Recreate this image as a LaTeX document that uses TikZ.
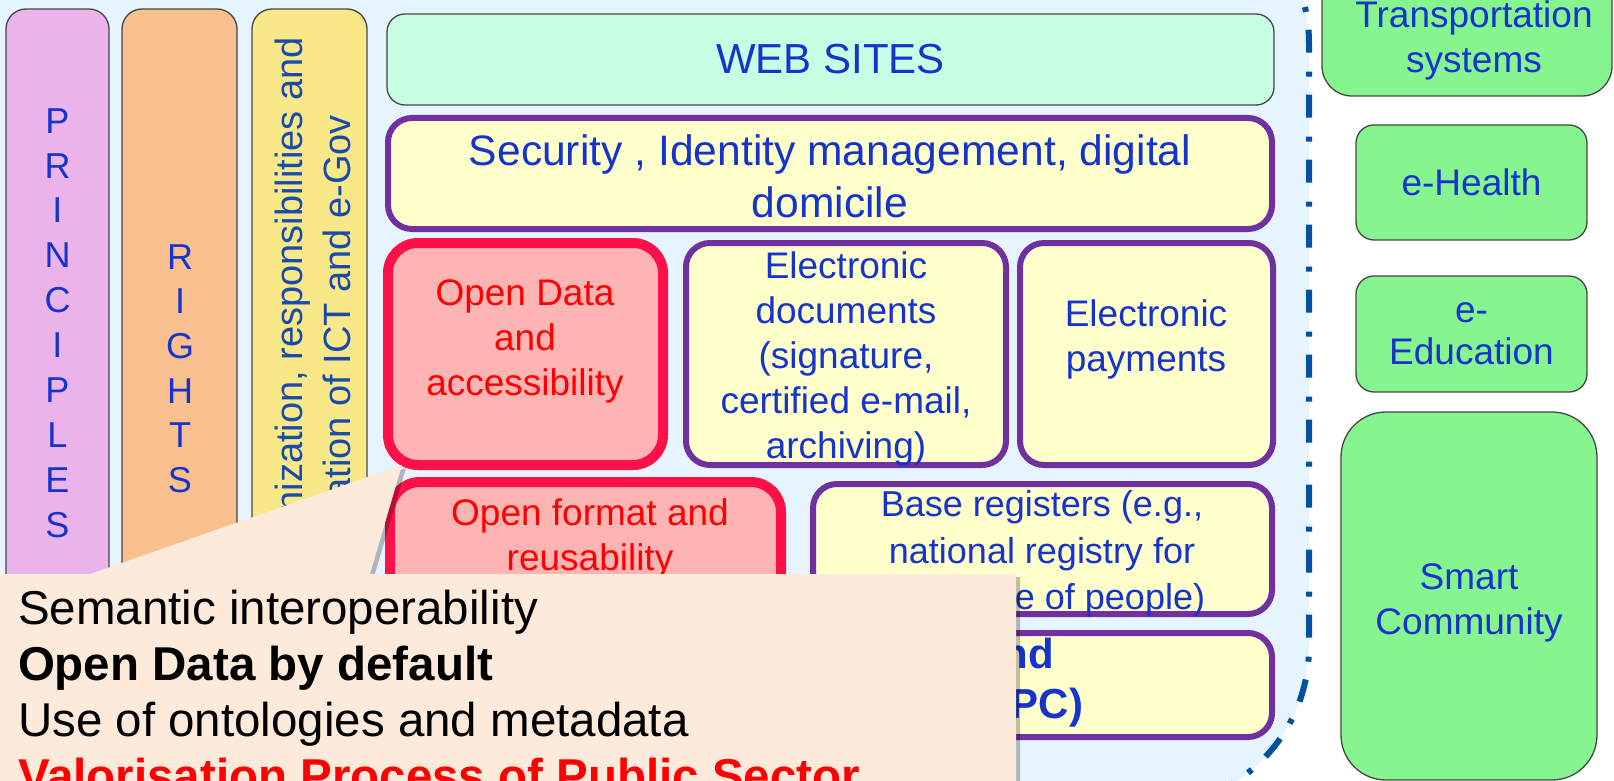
\documentclass[tikz,border=0pt]{standalone}
\usepackage{fontspec}
\setmainfont{Liberation Sans}
\usetikzlibrary{shadows}
\definecolor{bgblue}{RGB}{230,244,255}
\definecolor{dashblue}{RGB}{0,82,160}
\definecolor{pink1}{RGB}{234,179,234}
\definecolor{orange1}{RGB}{249,192,143}
\definecolor{yellow1}{RGB}{248,232,136}
\definecolor{mint}{RGB}{200,255,228}
\definecolor{paleyellow}{RGB}{255,255,204}
\definecolor{purp}{RGB}{112,48,160}
\definecolor{redb}{RGB}{255,16,72}
\definecolor{redfill}{RGB}{255,180,180}
\definecolor{green1}{RGB}{134,244,143}
\definecolor{txtblue}{RGB}{22,52,205}
\definecolor{rotblue}{RGB}{25,75,170}
\definecolor{callfill}{RGB}{253,234,219}
\definecolor{boxgray}{RGB}{70,70,70}
\begin{document}
\begin{tikzpicture}[x=1pt,y=-1pt,
  every node/.style={inner sep=0pt, outer sep=0pt},
  thinbox/.style={draw=boxgray, line width=1.3pt, rounded corners=18pt},
  colbox/.style={thinbox, rounded corners=20pt},
  purplebox/.style={draw=purp, line width=6pt, fill=paleyellow, rounded corners=24pt},
  redbox/.style={draw=redb, line width=10pt, fill=redfill, rounded corners=30pt},
  greenbox/.style={thinbox, fill=green1},
  bt/.style={text=txtblue, align=center},
  rt/.style={text=red, align=center},
  f37/.style={font=\fontsize{37}{45}\selectfont},
  calltxt/.style={anchor=base west, font=\fontsize{47.5}{56}\selectfont}
]
\useasboundingbox (0,0) rectangle (1614,781);
\begin{scope}
\clip (0,0) rectangle (1614,781);
\fill[white] (0,0) rectangle (1614,781);
% blue framework region with dash-dot border
\path[fill=bgblue, draw=dashblue, line width=6pt, dash pattern=on 23pt off 18pt on 5pt off 19pt, rounded corners=160pt] (-300,-117) rectangle (1309,807);

% left columns
\node[colbox, fill=pink1, minimum width=103pt, minimum height=791pt] (princ) at (57.5,404.5) {};
\node[bt, font=\fontsize{36}{44.9}\selectfont] (princtext) at (57.5,323) {P\\R\\I\\N\\C\\I\\P\\L\\E\\S};
\node[colbox, fill=orange1, minimum width=115pt, minimum height=791pt] (rights) at (179.5,404.5) {};
\node[bt, font=\fontsize{36}{44.6}\selectfont] (rightstext) at (180,368.5) {R\\I\\G\\H\\T\\S};
\node[colbox, fill=yellow1, minimum width=115pt, minimum height=791pt] (org) at (309.5,404.5) {};
\node[text=rotblue, rotate=90, anchor=east, font=\fontsize{38}{45}\selectfont] (orgl1) at (293,37) {Organization, responsibilities and};
\node[text=rotblue, rotate=90, anchor=east, font=\fontsize{38}{45}\selectfont] (orgl2) at (337,115) {coordination of ICT and e-Gov};

% central stack
\node[thinbox, fill=mint, minimum width=887pt, minimum height=91pt, bt, font=\fontsize{42}{50}\selectfont] (web) at (830.5,59.5) {WEB SITES};
\node[purplebox, minimum width=884pt, minimum height=111pt] (sec) at (830,173.5) {};
\node[bt, font=\fontsize{42.6}{52}\selectfont] (sectext) at (830,176) {Security , Identity management, digital\\domicile};

\node[redbox, minimum width=275pt, minimum height=222pt] (od) at (525.5,354) {};
\node[rt, f37] (odtext) at (525,341) {Open Data\\and\\accessibility};
\node[purplebox, minimum width=320pt, minimum height=222pt] (edoc) at (846,354) {};
\node[bt, f37] (edoctext) at (846,359) {Electronic\\documents\\(signature,\\certified e-mail,\\archiving)};
\node[purplebox, minimum width=253pt, minimum height=222pt] (epay) at (1146.5,354) {};
\node[bt, f37] (epaytext) at (1146,339) {Electronic\\payments};

\node[redbox, minimum width=391pt, minimum height=130pt] (ofmt) at (585.5,547) {};
\node[rt, f37] (ofmttext) at (590,538) {Open format and\\reusability};
\node[purplebox, minimum width=459pt, minimum height=130pt] (base) at (1042.5,549) {};
\node[bt, font=\fontsize{36}{46.5}\selectfont] (basetext) at (1042,554) {Base registers (e.g.,\\national registry for\\residence of people)};
\node[purplebox, minimum width=886pt, minimum height=104pt] (spc) at (829,685) {};
\node[bt, font=\bfseries\fontsize{42}{50}\selectfont] (spctext) at (816,682.5) {Public Connectivity and\\Cooperation System (SPC)};

% callout
\path[fill=callfill, drop shadow={shadow xshift=4pt, shadow yshift=-3pt, opacity=0.25, fill=black}]
  (-20,574) -- (90,574) -- (402,465) -- (370,574) -- (1016,574) -- (1016,820) -- (-20,820) -- cycle;
\node[calltxt] (cl1) at (18,624) {Semantic interoperability};
\node[calltxt, font=\bfseries\fontsize{47.5}{56}\selectfont] (cl2) at (18,680) {Open Data by default};
\node[calltxt] (cl3) at (18,736) {Use of ontologies and metadata};
\node[calltxt, text=red, font=\bfseries\fontsize{47.5}{56}\selectfont] (cl4) at (18,792) {Valorisation Process of Public Sector};

% right column
\node[greenbox, rounded corners=30pt, minimum width=290pt, minimum height=136pt] (trans) at (1467,28) {};
\node[bt, f37] (transtext) at (1474,40) {Transportation\\systems};
\node[greenbox, minimum width=231pt, minimum height=115pt, bt, f37] (ehealth) at (1471.5,182.5) {e-Health};
\node[greenbox, minimum width=231pt, minimum height=116pt, bt, font=\fontsize{37}{42}\selectfont] (eedu) at (1471.5,334) {e-\\Education};
\node[greenbox, rounded corners=45pt, minimum width=256pt, minimum height=368pt] (smart) at (1469,596) {};
\node[bt, f37] (smarttext) at (1469,603) {Smart\\Community};
\end{scope}
\end{tikzpicture}
\end{document}
